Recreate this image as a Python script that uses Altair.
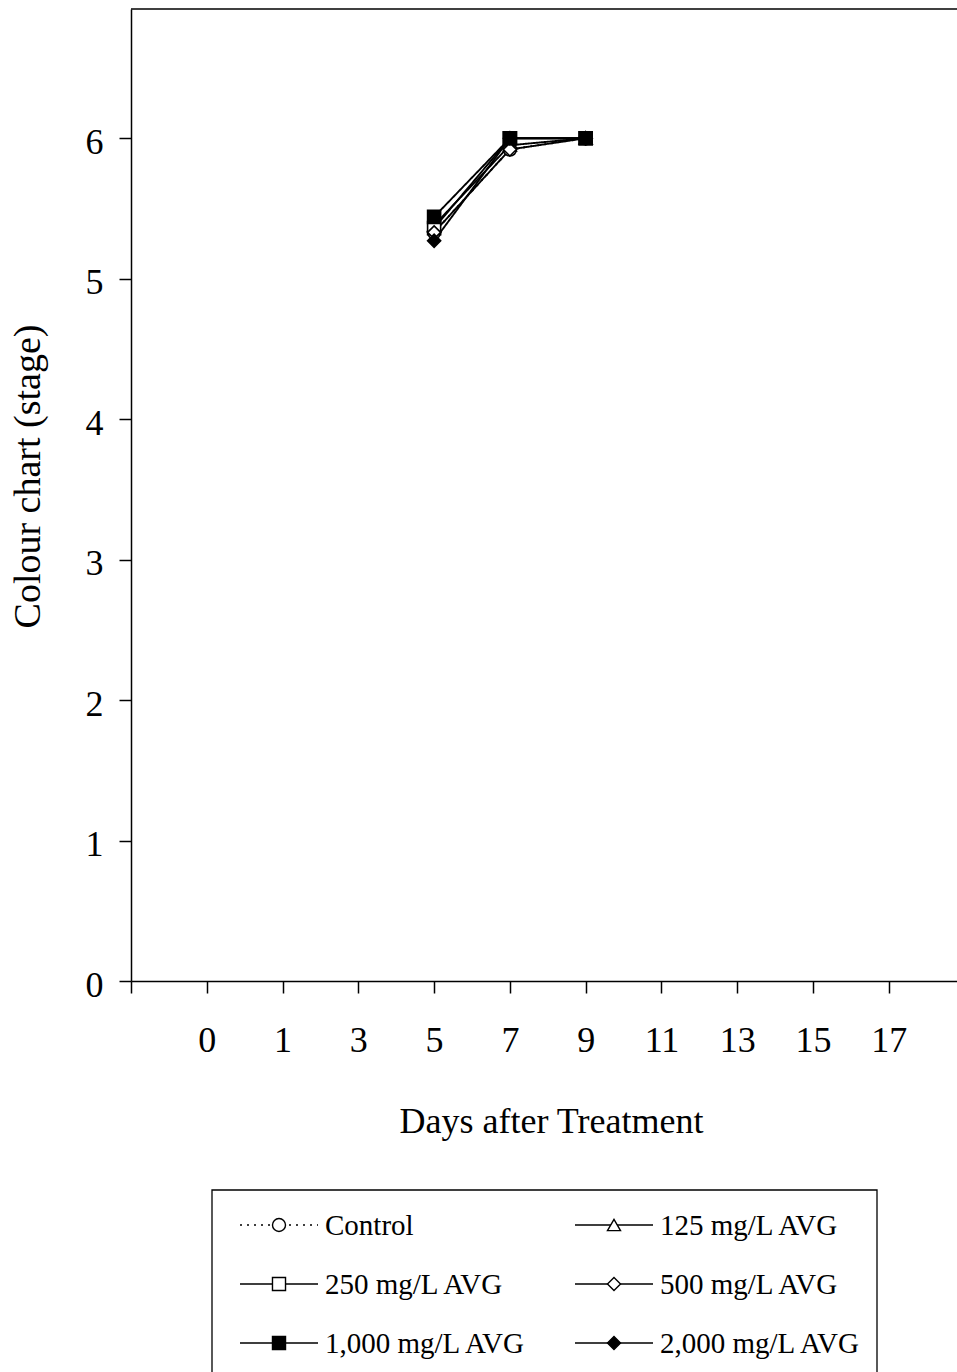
import json

import altair as alt
import pandas as pd

# Category axis: days after treatment, plotted at positions 1..10
day_labels = ["0", "1", "3", "5", "7", "9", "11", "13", "15", "17"]

series_names = [
    "Control",
    "125 mg/L AVG",
    "250 mg/L AVG",
    "500 mg/L AVG",
    "1,000 mg/L AVG",
    "2,000 mg/L AVG",
]

# Colour chart stage recorded on days 5, 7 and 9
obs_days = ["5", "7", "9"]
control = [5.33, 5.92, 6.00]
avg_125 = [5.38, 5.95, 6.00]
avg_250 = [5.36, 6.00, 6.00]
avg_500 = [5.33, 5.92, 6.00]
avg_1000 = [5.44, 6.00, 6.00]
avg_2000 = [5.27, 6.00, 6.00]

series_values = [control, avg_125, avg_250, avg_500, avg_1000, avg_2000]

# Marker / line styling per treatment
shapes = ["circle", "triangle-up", "square", "diamond", "square", "diamond"]
fills = ["white", "white", "white", "white", "black", "black"]
dashes = [[2, 5], [1, 0], [1, 0], [1, 0], [1, 0], [1, 0]]
marker_sizes = [170, 170, 210, 220, 210, 220]
legend_marker_sizes = [130, 140, 150, 160, 150, 160]

rows = []
for name, vals in zip(series_names, series_values):
    for d, v in zip(obs_days, vals):
        rows.append({"series": name, "day": d, "pos": day_labels.index(d) + 1, "stage": v})
df = pd.DataFrame(rows)

FONT = "Liberation Serif"
W, H = 826, 972
PAD_L, PAD_T = 131, 9
TOTAL_W, TOTAL_H = 957, 1372

shape_scale = alt.Scale(domain=series_names, range=shapes)
fill_scale = alt.Scale(domain=series_names, range=fills)
dash_scale = alt.Scale(domain=series_names, range=dashes)
size_scale = alt.Scale(domain=series_names, range=marker_sizes)

label_expr = (
    "datum.value >= 1 && datum.value <= 10 ? "
    + json.dumps(day_labels)
    + "[datum.value - 1] : ''"
)

x_enc = alt.X(
    "pos:Q",
    scale=alt.Scale(domain=[0, 10.9], nice=False, zero=False),
    axis=alt.Axis(
        values=list(range(11)),
        labelExpr=label_expr,
        title="Days after Treatment",
        titleFontSize=36,
        titleFontWeight="normal",
        titleX=420,
        titleY=151,
        titleBaseline="alphabetic",
        labelFontSize=36,
        labelPadding=30,
        labelOverlap=False,
        labelFlush=False,
        tickSize=12,
        grid=False,
    ),
)
y_enc = alt.Y(
    "stage:Q",
    scale=alt.Scale(domain=[0, 6.92], nice=False, zero=True),
    axis=alt.Axis(
        values=list(range(7)),
        format="d",
        title="Colour chart (stage)",
        titleFontSize=38,
        titleFontWeight="normal",
        titleAngle=270,
        titleX=-92,
        titleY=467,
        titleAlign="center",
        titleBaseline="alphabetic",
        labelFontSize=36,
        labelPadding=16,
        labelOffset=4,
        tickSize=12,
        grid=False,
    ),
)

base = alt.Chart(df)

lines = base.mark_line(color="black", strokeWidth=1.9).encode(
    x=x_enc,
    y=y_enc,
    detail="series:N",
    order="pos:Q",
    strokeDash=alt.StrokeDash("series:N", scale=dash_scale, legend=None),
)

points = base.mark_point(filled=True, stroke="black", strokeWidth=1.6, opacity=1).encode(
    x="pos:Q",
    y="stage:Q",
    shape=alt.Shape("series:N", scale=shape_scale, legend=None),
    fill=alt.Fill("series:N", scale=fill_scale, legend=None),
    size=alt.Size("series:N", scale=size_scale, legend=None),
)

# Top edge of the plot frame
frame_top = alt.Chart(pd.DataFrame({"k": [0]})).mark_rule(
    color="black", strokeWidth=1.5
).encode(y=alt.value(0))

# Legend: two columns, three rows, laid out below the axis title
leg_x0 = [109, 444]      # line start of each column (px from plot left)
leg_len = 78             # length of the sample line
leg_text_gap = 7
leg_y0, leg_dy = 1216, 59
leg_rows = []
for i, name in enumerate(series_names):
    col, row = i % 2, i // 2
    x0 = leg_x0[col]
    leg_rows.append(
        {
            "series": name,
            "lx0": x0,
            "lx1": x0 + leg_len,
            "mx": x0 + leg_len / 2,
            "tx": x0 + leg_len + leg_text_gap,
            "ly": leg_y0 + row * leg_dy,
        }
    )
leg_df = pd.DataFrame(leg_rows)
leg = alt.Chart(leg_df)

leg_lines = leg.mark_rule(color="black", strokeWidth=1.6).encode(
    x=alt.X("lx0:Q", scale=None),
    x2="lx1:Q",
    y=alt.Y("ly:Q", scale=None),
    strokeDash=alt.StrokeDash("series:N", scale=dash_scale, legend=None),
)
leg_marks = leg.mark_point(filled=True, stroke="black", strokeWidth=1.4, opacity=1).encode(
    x=alt.X("mx:Q", scale=None),
    y=alt.Y("ly:Q", scale=None),
    shape=alt.Shape("series:N", scale=shape_scale, legend=None),
    fill=alt.Fill("series:N", scale=fill_scale, legend=None),
    size=alt.Size(
        "series:N",
        scale=alt.Scale(domain=series_names, range=legend_marker_sizes),
        legend=None,
    ),
)
leg_text = leg.mark_text(
    align="left", baseline="middle", font=FONT, fontSize=29, color="black", dy=1
).encode(
    x=alt.X("tx:Q", scale=None),
    y=alt.Y("ly:Q", scale=None),
    text="series:N",
)
leg_box = alt.Chart(pd.DataFrame({"k": [0]})).mark_rect(
    fill="transparent", stroke="black", strokeWidth=1.3
).encode(
    x=alt.value(81), x2=alt.value(746), y=alt.value(1181), y2=alt.value(1400)
)

chart = (
    alt.layer(frame_top, lines, points, leg_box, leg_lines, leg_marks, leg_text)
    .properties(
        width=W,
        height=H,
        autosize=alt.AutoSizeParams(type="none"),
        padding={"left": PAD_L, "top": PAD_T, "right": TOTAL_W - PAD_L - W, "bottom": TOTAL_H - PAD_T - H},
        background="white",
    )
    .configure_view(stroke=None)
    .configure_axis(
        labelFont=FONT,
        titleFont=FONT,
        labelColor="black",
        titleColor="black",
        domainColor="black",
        tickColor="black",
        domainWidth=1.5,
        tickWidth=1.5,
    )
)

chart.save("out.html", embed_options={"renderer": "svg", "actions": False})
